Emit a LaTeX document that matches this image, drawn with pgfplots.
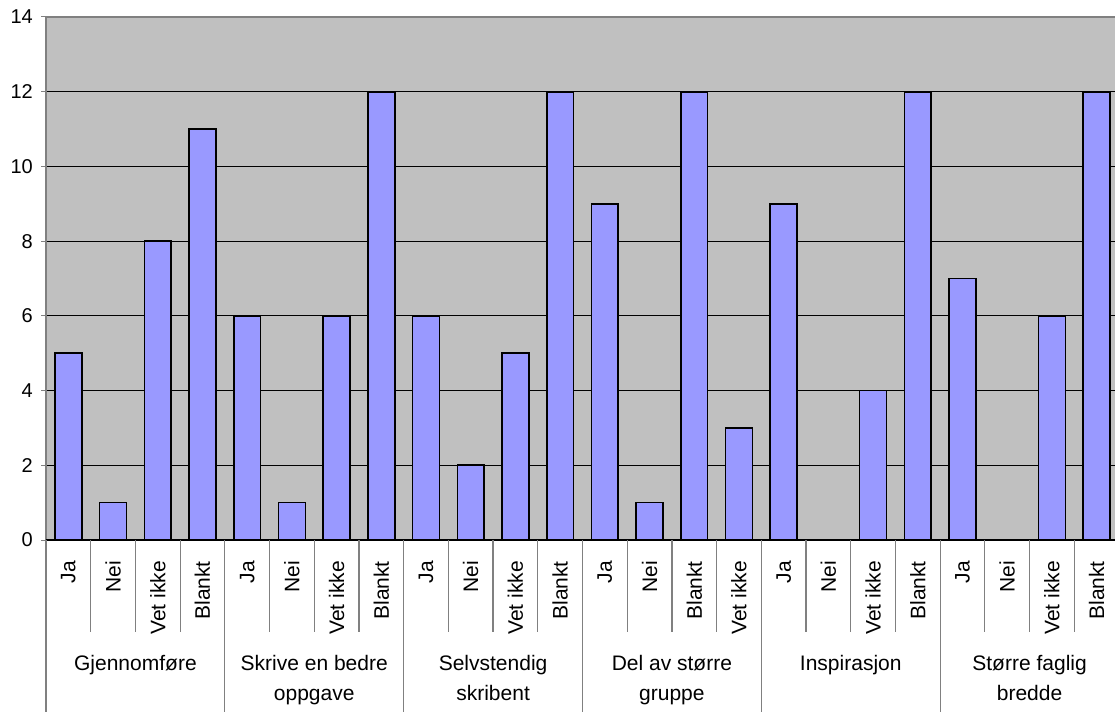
\documentclass[border=0pt]{standalone}
\usepackage{fontspec}
\setmainfont{Liberation Sans}
\usepackage{pgfplots}
\pgfplotsset{compat=1.18}
\definecolor{barfill}{HTML}{9999FF}
\definecolor{plotbg}{HTML}{C0C0C0}
\definecolor{axgray}{HTML}{808080}
\begin{document}
\begin{tikzpicture}
\fontsize{21bp}{30bp}\selectfont
\begin{axis}[name=ax,
    scale only axis, width=1073bp, height=523bp,
    xmin=-0.5, xmax=23.5, ymin=0, ymax=14,
    axis background/.style={fill=plotbg},
    axis line style={draw=axgray, line width=1.2bp},
    ytick={0,2,...,14}, ymajorgrids,
    grid style={black, line width=1bp},
    tick align=outside, major tick length=5bp,
    ytick style={draw=axgray, line width=1bp},
    yticklabel style={inner sep=0pt, xshift=-8bp},
    /pgf/number format/assume math mode=true,
    ticklabel style={font=\fontsize{20bp}{24bp}\selectfont},
    xtick={0,...,23}, xtick style={draw=none},
    xticklabels={Ja,Nei,Vet ikke,Blankt,Ja,Nei,Vet ikke,Blankt,Ja,Nei,Vet ikke,Blankt,Ja,Nei,Blankt,Vet ikke,Ja,Nei,Vet ikke,Blankt,Ja,Nei,Vet ikke,Blankt},
    xticklabel style={rotate=90, anchor=east, inner sep=0pt, xshift=-16bp,
      font=\fontsize{21bp}{24bp}\selectfont},
    clip=false,
    ybar, bar width=0.6, bar shift=0pt,
  ]
\addplot[fill=barfill, draw=black, line width=1.6bp] coordinates {
  (0,5) (1,1) (2,8) (3,11)
  (4,6) (5,1) (6,6) (7,12)
  (8,6) (9,2) (10,5) (11,12)
  (12,9) (13,1) (14,12) (15,3)
  (16,9) (17,0) (18,4) (19,12)
  (20,7) (21,0) (22,6) (23,12)
};
\draw[black, line width=1.2bp] (axis cs:-0.5,0) -- (axis cs:23.5,0);
\pgfplotsinvokeforeach{0.5,1.5,2.5,4.5,5.5,6.5,8.5,9.5,10.5,12.5,13.5,14.5,16.5,17.5,18.5,20.5,21.5,22.5}{
  \draw[axgray, line width=1.2bp] (axis cs:#1,0) -- ([yshift=-92bp]axis cs:#1,0);
}
\pgfplotsinvokeforeach{-0.5,3.5,7.5,11.5,15.5,19.5,23.5}{
  \draw[axgray, line width=1.2bp] (axis cs:#1,0) -- ([yshift=-175bp]axis cs:#1,0);
}
\node[anchor=north, align=center, inner sep=0pt] at ([yshift=-115bp]axis cs:1.5,0) {Gjennomføre};
\node[anchor=north, align=center, inner sep=0pt] at ([yshift=-115bp]axis cs:5.5,0) {Skrive en bedre\\oppgave};
\node[anchor=north, align=center, inner sep=0pt] at ([yshift=-115bp]axis cs:9.5,0) {Selvstendig\\skribent};
\node[anchor=north, align=center, inner sep=0pt] at ([yshift=-115bp]axis cs:13.5,0) {Del av større\\gruppe};
\node[anchor=north, align=center, inner sep=0pt] at ([yshift=-115bp]axis cs:17.5,0) {Inspirasjon};
\node[anchor=north, align=center, inner sep=0pt] at ([yshift=-115bp]axis cs:21.5,0) {Større faglig\\bredde};
\end{axis}
\pgfresetboundingbox
\path[use as bounding box] ([xshift=-46bp,yshift=-171bp]ax.south west) rectangle ([xshift=-4bp,yshift=17bp]ax.north east);
\end{tikzpicture}
\end{document}
